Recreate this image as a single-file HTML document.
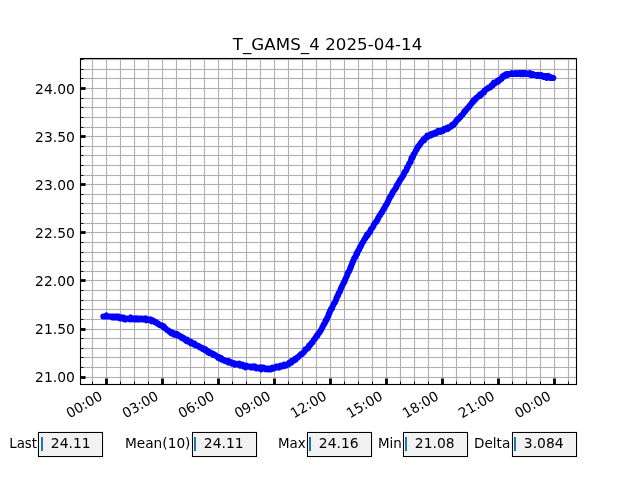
<!DOCTYPE html>
<html lang="en"><head><meta charset="utf-8"><title>T_GAMS_4 2025-04-14</title>
<style>html,body{margin:0;padding:0;background:#fff;overflow:hidden}svg{display:block}text{font-family:'DejaVu Sans','Liberation Sans',sans-serif;fill:#000}.t{font-size:13.889px}.g{fill:#b0b0b0}.h{fill:#b0b0b0;opacity:.065}</style></head><body>
<svg width="640" height="480" viewBox="0 0 640 480">
<defs><filter id="nf" x="0" y="0" width="640" height="480" filterUnits="userSpaceOnUse" color-interpolation-filters="sRGB"><feOffset dx="0" dy="0"/></filter></defs>
<rect width="640" height="480" fill="#fff"/>
<g shape-rendering="crispEdges">
<rect class="h" x="91" y="58" width="3" height="327"/>
<rect class="h" x="105" y="58" width="3" height="327"/>
<rect class="h" x="119" y="58" width="3" height="327"/>
<rect class="h" x="133" y="58" width="3" height="327"/>
<rect class="h" x="147" y="58" width="3" height="327"/>
<rect class="h" x="161" y="58" width="3" height="327"/>
<rect class="h" x="175" y="58" width="3" height="327"/>
<rect class="h" x="189" y="58" width="3" height="327"/>
<rect class="h" x="203" y="58" width="3" height="327"/>
<rect class="h" x="217" y="58" width="3" height="327"/>
<rect class="h" x="231" y="58" width="3" height="327"/>
<rect class="h" x="245" y="58" width="3" height="327"/>
<rect class="h" x="259" y="58" width="3" height="327"/>
<rect class="h" x="273" y="58" width="3" height="327"/>
<rect class="h" x="287" y="58" width="3" height="327"/>
<rect class="h" x="301" y="58" width="3" height="327"/>
<rect class="h" x="315" y="58" width="3" height="327"/>
<rect class="h" x="329" y="58" width="3" height="327"/>
<rect class="h" x="343" y="58" width="3" height="327"/>
<rect class="h" x="357" y="58" width="3" height="327"/>
<rect class="h" x="371" y="58" width="3" height="327"/>
<rect class="h" x="385" y="58" width="3" height="327"/>
<rect class="h" x="399" y="58" width="3" height="327"/>
<rect class="h" x="413" y="58" width="3" height="327"/>
<rect class="h" x="427" y="58" width="3" height="327"/>
<rect class="h" x="441" y="58" width="3" height="327"/>
<rect class="h" x="455" y="58" width="3" height="327"/>
<rect class="h" x="469" y="58" width="3" height="327"/>
<rect class="h" x="483" y="58" width="3" height="327"/>
<rect class="h" x="497" y="58" width="3" height="327"/>
<rect class="h" x="511" y="58" width="3" height="327"/>
<rect class="h" x="525" y="58" width="3" height="327"/>
<rect class="h" x="539" y="58" width="3" height="327"/>
<rect class="h" x="553" y="58" width="3" height="327"/>
<rect class="h" x="567" y="58" width="3" height="327"/>
<rect class="h" x="80" y="58" width="497" height="3"/>
<rect class="h" x="80" y="68" width="497" height="3"/>
<rect class="h" x="80" y="77" width="497" height="3"/>
<rect class="h" x="80" y="87" width="497" height="3"/>
<rect class="h" x="80" y="97" width="497" height="3"/>
<rect class="h" x="80" y="106" width="497" height="3"/>
<rect class="h" x="80" y="116" width="497" height="3"/>
<rect class="h" x="80" y="126" width="497" height="3"/>
<rect class="h" x="80" y="135" width="497" height="3"/>
<rect class="h" x="80" y="145" width="497" height="3"/>
<rect class="h" x="80" y="154" width="497" height="3"/>
<rect class="h" x="80" y="164" width="497" height="3"/>
<rect class="h" x="80" y="174" width="497" height="3"/>
<rect class="h" x="80" y="183" width="497" height="3"/>
<rect class="h" x="80" y="193" width="497" height="3"/>
<rect class="h" x="80" y="202" width="497" height="3"/>
<rect class="h" x="80" y="212" width="497" height="3"/>
<rect class="h" x="80" y="222" width="497" height="3"/>
<rect class="h" x="80" y="231" width="497" height="3"/>
<rect class="h" x="80" y="241" width="497" height="3"/>
<rect class="h" x="80" y="251" width="497" height="3"/>
<rect class="h" x="80" y="260" width="497" height="3"/>
<rect class="h" x="80" y="270" width="497" height="3"/>
<rect class="h" x="80" y="279" width="497" height="3"/>
<rect class="h" x="80" y="289" width="497" height="3"/>
<rect class="h" x="80" y="299" width="497" height="3"/>
<rect class="h" x="80" y="308" width="497" height="3"/>
<rect class="h" x="80" y="318" width="497" height="3"/>
<rect class="h" x="80" y="328" width="497" height="3"/>
<rect class="h" x="80" y="337" width="497" height="3"/>
<rect class="h" x="80" y="347" width="497" height="3"/>
<rect class="h" x="80" y="356" width="497" height="3"/>
<rect class="h" x="80" y="366" width="497" height="3"/>
<rect class="h" x="80" y="376" width="497" height="3"/>
<rect class="g" x="92" y="58" width="1" height="327"/>
<rect class="g" x="106" y="58" width="1" height="327"/>
<rect class="g" x="120" y="58" width="1" height="327"/>
<rect class="g" x="134" y="58" width="1" height="327"/>
<rect class="g" x="148" y="58" width="1" height="327"/>
<rect class="g" x="162" y="58" width="1" height="327"/>
<rect class="g" x="176" y="58" width="1" height="327"/>
<rect class="g" x="190" y="58" width="1" height="327"/>
<rect class="g" x="204" y="58" width="1" height="327"/>
<rect class="g" x="218" y="58" width="1" height="327"/>
<rect class="g" x="232" y="58" width="1" height="327"/>
<rect class="g" x="246" y="58" width="1" height="327"/>
<rect class="g" x="260" y="58" width="1" height="327"/>
<rect class="g" x="274" y="58" width="1" height="327"/>
<rect class="g" x="288" y="58" width="1" height="327"/>
<rect class="g" x="302" y="58" width="1" height="327"/>
<rect class="g" x="316" y="58" width="1" height="327"/>
<rect class="g" x="330" y="58" width="1" height="327"/>
<rect class="g" x="344" y="58" width="1" height="327"/>
<rect class="g" x="358" y="58" width="1" height="327"/>
<rect class="g" x="372" y="58" width="1" height="327"/>
<rect class="g" x="386" y="58" width="1" height="327"/>
<rect class="g" x="400" y="58" width="1" height="327"/>
<rect class="g" x="414" y="58" width="1" height="327"/>
<rect class="g" x="428" y="58" width="1" height="327"/>
<rect class="g" x="442" y="58" width="1" height="327"/>
<rect class="g" x="456" y="58" width="1" height="327"/>
<rect class="g" x="470" y="58" width="1" height="327"/>
<rect class="g" x="484" y="58" width="1" height="327"/>
<rect class="g" x="498" y="58" width="1" height="327"/>
<rect class="g" x="512" y="58" width="1" height="327"/>
<rect class="g" x="526" y="58" width="1" height="327"/>
<rect class="g" x="540" y="58" width="1" height="327"/>
<rect class="g" x="554" y="58" width="1" height="327"/>
<rect class="g" x="568" y="58" width="1" height="327"/>
<rect class="g" x="80" y="59" width="497" height="1"/>
<rect class="g" x="80" y="69" width="497" height="1"/>
<rect class="g" x="80" y="78" width="497" height="1"/>
<rect class="g" x="80" y="88" width="497" height="1"/>
<rect class="g" x="80" y="98" width="497" height="1"/>
<rect class="g" x="80" y="107" width="497" height="1"/>
<rect class="g" x="80" y="117" width="497" height="1"/>
<rect class="g" x="80" y="127" width="497" height="1"/>
<rect class="g" x="80" y="136" width="497" height="1"/>
<rect class="g" x="80" y="146" width="497" height="1"/>
<rect class="g" x="80" y="155" width="497" height="1"/>
<rect class="g" x="80" y="165" width="497" height="1"/>
<rect class="g" x="80" y="175" width="497" height="1"/>
<rect class="g" x="80" y="184" width="497" height="1"/>
<rect class="g" x="80" y="194" width="497" height="1"/>
<rect class="g" x="80" y="203" width="497" height="1"/>
<rect class="g" x="80" y="213" width="497" height="1"/>
<rect class="g" x="80" y="223" width="497" height="1"/>
<rect class="g" x="80" y="232" width="497" height="1"/>
<rect class="g" x="80" y="242" width="497" height="1"/>
<rect class="g" x="80" y="252" width="497" height="1"/>
<rect class="g" x="80" y="261" width="497" height="1"/>
<rect class="g" x="80" y="271" width="497" height="1"/>
<rect class="g" x="80" y="280" width="497" height="1"/>
<rect class="g" x="80" y="290" width="497" height="1"/>
<rect class="g" x="80" y="300" width="497" height="1"/>
<rect class="g" x="80" y="309" width="497" height="1"/>
<rect class="g" x="80" y="319" width="497" height="1"/>
<rect class="g" x="80" y="329" width="497" height="1"/>
<rect class="g" x="80" y="338" width="497" height="1"/>
<rect class="g" x="80" y="348" width="497" height="1"/>
<rect class="g" x="80" y="357" width="497" height="1"/>
<rect class="g" x="80" y="367" width="497" height="1"/>
<rect class="g" x="80" y="377" width="497" height="1"/>
</g>
<polyline fill="none" stroke="#00f" stroke-width="6" stroke-linecap="round" stroke-linejoin="round" points="103.3,316.4 103.8,316.4 104.2,316.4 104.7,316.5 105.1,316.5 105.6,316.5 106.0,316.5 106.5,315.5 106.9,316.5 107.4,316.5 107.8,316.5 108.3,316.5 108.7,316.5 109.2,316.5 109.6,316.5 110.1,316.5 110.5,316.5 111.0,316.5 111.4,316.5 111.9,316.5 112.3,317.5 112.8,316.5 113.2,316.5 113.7,317.5 114.1,316.5 114.6,316.5 115.0,316.5 115.5,316.5 115.9,317.5 116.4,317.5 116.8,316.5 117.3,317.5 117.7,316.5 118.2,317.5 118.6,316.5 119.1,317.5 119.5,317.5 120.0,318.4 120.4,318.4 120.9,317.5 121.3,318.4 121.8,317.5 122.2,318.4 122.7,317.5 123.1,317.5 123.6,317.5 124.0,318.4 124.5,319.4 124.9,318.4 125.4,318.4 125.8,319.4 126.3,318.4 126.7,318.4 127.2,318.4 127.6,318.4 128.1,318.4 128.5,318.4 129.0,318.4 129.4,318.4 129.9,319.4 130.3,318.4 130.8,317.5 131.2,318.4 131.7,319.4 132.1,318.4 132.6,318.4 133.0,318.4 133.5,318.4 133.9,318.4 134.4,318.4 134.8,319.4 135.3,318.4 135.7,319.4 136.2,319.4 136.6,319.4 137.1,318.4 137.5,319.4 138.0,319.4 138.4,318.4 138.9,318.4 139.3,319.4 139.8,319.4 140.2,319.4 140.7,318.4 141.1,318.4 141.6,318.4 142.0,318.4 142.5,319.4 142.9,319.4 143.4,319.4 143.8,319.4 144.3,319.4 144.7,319.4 145.2,319.4 145.6,318.4 146.1,319.4 146.5,320.3 147.0,319.4 147.4,319.4 147.9,319.4 148.3,319.4 148.8,319.4 149.2,319.4 149.7,319.4 150.1,320.3 150.6,319.4 151.0,320.3 151.5,320.3 151.9,321.3 152.4,320.3 152.8,320.3 153.3,321.3 153.7,321.3 154.2,321.3 154.6,321.3 155.1,322.3 155.5,322.3 156.0,322.3 156.4,322.3 156.9,323.2 157.3,323.2 157.8,323.2 158.2,324.2 158.7,324.2 159.1,324.2 159.6,325.2 160.0,325.2 160.5,325.2 160.9,325.2 161.4,325.2 161.8,325.2 162.3,326.1 162.7,326.1 163.2,327.1 163.6,326.1 164.1,327.1 164.5,328.0 165.0,328.0 165.4,328.0 165.9,329.0 166.3,329.0 166.8,330.0 167.2,330.0 167.7,330.0 168.1,330.9 168.6,330.9 169.0,330.9 169.5,331.9 169.9,331.9 170.4,331.9 170.8,332.9 171.3,331.9 171.7,332.9 172.2,333.8 172.6,333.8 173.1,333.8 173.5,332.9 174.0,333.8 174.4,334.8 174.9,334.8 175.3,333.8 175.8,334.8 176.2,334.8 176.7,333.8 177.1,334.8 177.6,335.7 178.0,334.8 178.5,335.7 178.9,335.7 179.4,335.7 179.8,335.7 180.3,336.7 180.7,336.7 181.2,337.7 181.6,336.7 182.1,337.7 182.5,338.6 183.0,338.6 183.4,337.7 183.9,338.6 184.3,338.6 184.8,339.6 185.2,339.6 185.7,340.5 186.1,339.6 186.6,339.6 187.0,339.6 187.5,341.5 187.9,340.5 188.4,341.5 188.8,341.5 189.3,341.5 189.7,342.5 190.2,342.5 190.6,341.5 191.1,343.4 191.5,342.5 192.0,343.4 192.4,343.4 192.9,343.4 193.3,343.4 193.8,344.4 194.2,343.4 194.7,344.4 195.1,344.4 195.6,345.4 196.0,345.4 196.5,345.4 196.9,345.4 197.4,345.4 197.8,345.4 198.3,346.3 198.7,346.3 199.2,346.3 199.6,347.3 200.1,347.3 200.5,347.3 201.0,347.3 201.4,348.2 201.9,348.2 202.3,348.2 202.8,349.2 203.2,348.2 203.7,349.2 204.1,349.2 204.6,349.2 205.0,350.2 205.5,349.2 205.9,350.2 206.4,351.1 206.8,351.1 207.3,351.1 207.7,352.1 208.2,351.1 208.6,352.1 209.1,352.1 209.5,353.1 210.0,352.1 210.4,353.1 210.9,353.1 211.3,353.1 211.8,353.1 212.2,354.0 212.7,354.0 213.1,355.0 213.6,354.0 214.0,355.0 214.5,355.0 214.9,355.0 215.4,355.0 215.8,355.9 216.3,355.9 216.7,355.9 217.2,356.9 217.6,356.9 218.1,357.9 218.5,356.9 219.0,356.9 219.4,357.9 219.9,358.8 220.3,358.8 220.8,358.8 221.2,357.9 221.7,358.8 222.1,359.8 222.6,359.8 223.0,359.8 223.5,359.8 223.9,359.8 224.4,360.8 224.8,360.8 225.3,360.8 225.7,360.8 226.2,360.8 226.6,361.7 227.1,361.7 227.5,361.7 228.0,361.7 228.4,360.8 228.9,362.7 229.3,361.7 229.8,361.7 230.2,361.7 230.7,362.7 231.1,362.7 231.6,362.7 232.0,363.6 232.5,362.7 232.9,362.7 233.4,363.6 233.8,363.6 234.3,363.6 234.7,364.6 235.2,363.6 235.6,363.6 236.1,364.6 236.5,364.6 237.0,364.6 237.4,364.6 237.9,364.6 238.3,364.6 238.8,364.6 239.2,363.6 239.7,364.6 240.1,365.6 240.6,364.6 241.0,364.6 241.5,365.6 241.9,364.6 242.4,364.6 242.8,365.6 243.3,365.6 243.7,366.5 244.2,365.6 244.6,365.6 245.1,365.6 245.5,367.5 246.0,365.6 246.4,365.6 246.9,366.5 247.3,366.5 247.8,366.5 248.2,366.5 248.7,366.5 249.1,366.5 249.6,366.5 250.0,366.5 250.5,367.5 250.9,367.5 251.4,366.5 251.8,366.5 252.3,367.5 252.7,366.5 253.2,366.5 253.6,367.5 254.1,366.5 254.5,367.5 255.0,366.5 255.4,367.5 255.9,367.5 256.3,368.4 256.8,367.5 257.2,367.5 257.7,367.5 258.1,367.5 258.6,367.5 259.0,368.4 259.5,368.4 259.9,368.4 260.4,367.5 260.8,369.4 261.3,369.4 261.7,368.4 262.2,367.5 262.6,368.4 263.1,368.4 263.5,367.5 264.0,368.4 264.4,368.4 264.9,368.4 265.3,368.4 265.8,369.4 266.2,368.4 266.7,368.4 267.1,368.4 267.6,368.4 268.0,369.4 268.5,369.4 268.9,368.4 269.4,368.4 269.8,369.4 270.3,368.4 270.7,368.4 271.2,369.4 271.6,368.4 272.1,368.4 272.5,367.5 273.0,368.4 273.4,368.4 273.9,368.4 274.3,368.4 274.8,367.5 275.2,367.5 275.7,367.5 276.1,366.5 276.6,366.5 277.0,367.5 277.5,367.5 277.9,367.5 278.4,366.5 278.8,366.5 279.3,367.5 279.7,366.5 280.2,366.5 280.6,365.6 281.1,366.5 281.5,366.5 282.0,366.5 282.4,366.5 282.9,366.5 283.3,365.6 283.8,365.6 284.2,364.6 284.7,365.6 285.1,365.6 285.6,364.6 286.0,365.6 286.5,364.6 286.9,364.6 287.4,364.6 287.8,364.6 288.3,364.6 288.7,363.6 289.2,362.7 289.6,363.6 290.1,363.6 290.5,362.7 291.0,362.7 291.4,362.7 291.9,360.8 292.3,361.7 292.8,360.8 293.2,360.8 293.7,360.8 294.1,359.8 294.6,359.8 295.0,358.8 295.5,359.8 295.9,358.8 296.4,358.8 296.8,357.9 297.3,357.9 297.7,356.9 298.2,356.9 298.6,356.9 299.1,355.9 299.5,355.9 300.0,355.0 300.4,355.0 300.9,354.0 301.3,354.0 301.8,354.0 302.2,354.0 302.7,353.1 303.1,353.1 303.6,352.1 304.0,352.1 304.5,351.1 304.9,351.1 305.4,349.2 305.8,349.2 306.3,349.2 306.7,349.2 307.2,348.2 307.6,348.2 308.1,348.2 308.5,347.3 309.0,345.4 309.4,345.4 309.9,345.4 310.3,344.4 310.8,344.4 311.2,343.4 311.7,342.5 312.1,342.5 312.6,342.5 313.0,341.5 313.5,340.5 313.9,339.6 314.4,339.6 314.8,338.6 315.3,338.6 315.7,337.7 316.2,336.7 316.6,335.7 317.1,335.7 317.5,335.7 318.0,333.8 318.4,333.8 318.9,332.9 319.3,332.9 319.8,331.9 320.2,330.9 320.7,330.9 321.1,330.0 321.6,329.0 322.0,328.0 322.5,327.1 322.9,326.1 323.4,325.2 323.8,324.2 324.3,324.2 324.7,323.2 325.2,322.3 325.6,320.3 326.1,320.3 326.5,320.3 327.0,318.4 327.4,317.5 327.9,316.5 328.3,316.5 328.8,313.6 329.2,313.6 329.7,312.6 330.1,310.7 330.6,310.7 331.0,308.8 331.5,308.8 331.9,308.8 332.4,306.9 332.8,305.9 333.3,305.0 333.7,304.0 334.2,303.0 334.6,303.0 335.1,302.1 335.5,301.1 336.0,300.1 336.4,298.2 336.9,297.3 337.3,296.3 337.8,296.3 338.2,294.4 338.7,293.4 339.1,292.4 339.6,292.4 340.0,291.5 340.5,289.6 340.9,288.6 341.4,287.6 341.8,286.7 342.3,285.7 342.7,284.8 343.2,283.8 343.6,282.8 344.1,281.9 344.5,281.9 345.0,279.9 345.4,279.0 345.9,278.0 346.3,277.1 346.8,276.1 347.2,275.1 347.7,273.2 348.1,272.2 348.6,272.2 349.0,271.3 349.5,270.3 349.9,269.4 350.4,267.4 350.8,267.4 351.3,265.5 351.7,264.6 352.2,263.6 352.6,261.7 353.1,261.7 353.5,260.7 354.0,258.8 354.4,257.8 354.9,257.8 355.3,256.9 355.8,255.9 356.2,254.9 356.7,253.0 357.1,254.0 357.6,252.0 358.0,251.1 358.5,250.1 358.9,250.1 359.4,249.2 359.8,247.2 360.3,247.2 360.7,246.3 361.2,245.3 361.6,244.3 362.1,243.4 362.5,242.4 363.0,242.4 363.4,241.5 363.9,240.5 364.3,239.5 364.8,238.6 365.2,238.6 365.7,237.6 366.1,236.7 366.6,235.7 367.0,234.7 367.5,235.7 367.9,234.7 368.4,233.8 368.8,232.8 369.3,232.8 369.7,231.8 370.2,231.8 370.6,229.9 371.1,229.0 371.5,229.0 372.0,228.0 372.4,228.0 372.9,227.0 373.3,226.1 373.8,225.1 374.2,224.1 374.7,223.2 375.1,223.2 375.6,222.2 376.0,222.2 376.5,221.3 376.9,220.3 377.4,220.3 377.8,218.4 378.3,218.4 378.7,217.4 379.2,216.4 379.6,215.5 380.1,215.5 380.5,214.5 381.0,213.6 381.4,212.6 381.9,212.6 382.3,211.6 382.8,210.7 383.2,209.7 383.7,208.8 384.1,208.8 384.6,207.8 385.0,206.8 385.5,205.9 385.9,204.9 386.4,204.9 386.8,203.9 387.3,203.0 387.7,202.0 388.2,201.1 388.6,200.1 389.1,199.1 389.5,198.2 390.0,197.2 390.4,196.2 390.9,196.2 391.3,195.3 391.8,194.3 392.2,193.4 392.7,192.4 393.1,191.4 393.6,191.4 394.0,190.5 394.5,189.5 394.9,189.5 395.4,188.6 395.8,187.6 396.3,187.6 396.7,185.7 397.2,184.7 397.6,184.7 398.1,183.7 398.5,182.8 399.0,181.8 399.4,181.8 399.9,179.9 400.3,179.9 400.8,178.9 401.2,178.9 401.7,178.0 402.1,177.0 402.6,176.0 403.0,176.0 403.5,175.1 403.9,174.1 404.4,172.2 404.8,172.2 405.3,171.2 405.7,171.2 406.2,170.3 406.6,169.3 407.1,167.4 407.5,167.4 408.0,166.4 408.4,165.5 408.9,164.5 409.3,163.5 409.8,162.6 410.2,162.6 410.7,161.6 411.1,159.7 411.6,157.8 412.0,157.8 412.5,157.8 412.9,156.8 413.4,154.9 413.8,153.9 414.3,153.9 414.7,153.0 415.2,152.0 415.6,151.0 416.1,150.1 416.5,150.1 417.0,148.1 417.4,148.1 417.9,147.2 418.3,146.2 418.8,146.2 419.2,145.3 419.7,144.3 420.1,144.3 420.6,143.3 421.0,142.4 421.5,142.4 421.9,141.4 422.4,141.4 422.8,140.5 423.3,139.5 423.7,140.5 424.2,140.5 424.6,139.5 425.1,138.5 425.5,137.6 426.0,137.6 426.4,137.6 426.9,137.6 427.3,135.6 427.8,136.6 428.2,135.6 428.7,135.6 429.1,135.6 429.6,134.7 430.0,134.7 430.5,135.6 430.9,134.7 431.4,133.7 431.8,133.7 432.3,133.7 432.7,134.7 433.2,133.7 433.6,133.7 434.1,133.7 434.5,132.8 435.0,132.8 435.4,133.7 435.9,132.8 436.3,132.8 436.8,131.8 437.2,132.8 437.7,131.8 438.1,130.8 438.6,131.8 439.0,131.8 439.5,131.8 439.9,130.8 440.4,130.8 440.8,131.8 441.3,130.8 441.7,130.8 442.2,129.9 442.6,129.9 443.1,130.8 443.5,129.9 444.0,129.9 444.4,128.9 444.9,129.9 445.3,128.9 445.8,128.9 446.2,128.9 446.7,128.9 447.1,127.9 447.6,128.9 448.0,128.9 448.5,127.9 448.9,127.0 449.4,127.0 449.8,127.0 450.3,127.0 450.7,127.0 451.2,126.0 451.6,125.1 452.1,126.0 452.5,125.1 453.0,125.1 453.4,125.1 453.9,124.1 454.3,123.1 454.8,123.1 455.2,123.1 455.7,122.2 456.1,121.2 456.6,120.2 457.0,120.2 457.5,119.3 457.9,119.3 458.4,119.3 458.8,118.3 459.3,118.3 459.7,117.4 460.2,117.4 460.6,116.4 461.1,115.4 461.5,115.4 462.0,115.4 462.4,114.5 462.9,114.5 463.3,113.5 463.8,112.6 464.2,111.6 464.7,111.6 465.1,111.6 465.6,110.6 466.0,109.7 466.5,109.7 466.9,108.7 467.4,108.7 467.8,107.7 468.3,107.7 468.7,106.8 469.2,106.8 469.6,105.8 470.1,104.9 470.5,104.9 471.0,103.9 471.4,103.9 471.9,102.9 472.3,102.0 472.8,102.0 473.2,102.0 473.7,100.0 474.1,100.0 474.6,100.0 475.0,100.0 475.5,99.1 475.9,98.1 476.4,98.1 476.8,98.1 477.3,97.2 477.7,97.2 478.2,96.2 478.6,96.2 479.1,96.2 479.5,96.2 480.0,94.3 480.4,94.3 480.9,95.2 481.3,94.3 481.8,93.3 482.2,93.3 482.7,92.4 483.1,92.4 483.6,92.4 484.0,92.4 484.5,90.4 484.9,90.4 485.4,90.4 485.8,89.5 486.3,89.5 486.7,89.5 487.2,88.5 487.6,88.5 488.1,88.5 488.5,87.5 489.0,87.5 489.4,87.5 489.9,87.5 490.3,87.5 490.8,86.6 491.2,85.6 491.7,85.6 492.1,85.6 492.6,85.6 493.0,83.7 493.5,83.7 493.9,82.7 494.4,83.7 494.8,83.7 495.3,82.7 495.7,82.7 496.2,81.8 496.6,81.8 497.1,81.8 497.5,80.8 498.0,81.8 498.4,80.8 498.9,79.8 499.3,79.8 499.8,79.8 500.2,79.8 500.7,78.9 501.1,78.9 501.6,78.9 502.0,77.0 502.5,77.0 502.9,76.0 503.4,77.0 503.8,76.0 504.3,76.0 504.7,75.0 505.2,76.0 505.6,75.0 506.1,74.1 506.5,75.0 507.0,74.1 507.4,74.1 507.9,75.0 508.3,74.1 508.8,74.1 509.2,74.1 509.7,74.1 510.1,74.1 510.6,74.1 511.0,74.1 511.5,74.1 511.9,73.1 512.4,74.1 512.8,74.1 513.3,74.1 513.7,74.1 514.2,74.1 514.6,74.1 515.1,74.1 515.5,73.1 516.0,73.1 516.4,74.1 516.9,74.1 517.3,74.1 517.8,74.1 518.2,74.1 518.7,73.1 519.1,73.1 519.6,73.1 520.0,73.1 520.5,73.1 520.9,74.1 521.4,73.1 521.8,73.1 522.3,73.1 522.7,73.1 523.2,73.1 523.6,74.1 524.1,73.1 524.5,73.1 525.0,73.1 525.4,73.1 525.9,73.1 526.3,74.1 526.8,74.1 527.2,74.1 527.7,74.1 528.1,74.1 528.6,74.1 529.0,74.1 529.5,74.1 529.9,73.1 530.4,74.1 530.8,75.0 531.3,74.1 531.7,74.1 532.2,75.0 532.6,74.1 533.1,74.1 533.5,75.0 534.0,75.0 534.4,75.0 534.9,75.0 535.3,75.0 535.8,75.0 536.2,75.0 536.7,76.0 537.1,76.0 537.6,75.0 538.0,76.0 538.5,75.0 538.9,76.0 539.4,76.0 539.8,76.0 540.3,76.0 540.7,76.0 541.2,75.0 541.6,76.0 542.1,76.0 542.5,76.0 543.0,76.0 543.4,77.0 543.9,77.0 544.3,77.0 544.8,76.0 545.2,76.0 545.7,76.0 546.1,77.0 546.6,77.9 547.0,77.0 547.5,77.0 547.9,77.0 548.4,76.0 548.8,77.0 549.3,77.0 549.7,77.9 550.2,77.9 550.6,77.0 551.1,77.9 551.5,77.9 552.0,77.9 552.4,77.8 552.9,77.9 553.3,78.0"/>
<g shape-rendering="crispEdges">
<rect x="92" y="382" width="1" height="3" fill="#000" opacity=".9"/>
<rect x="92" y="381" width="1" height="1" fill="#000" opacity=".45"/>
<rect x="105" y="379" width="3" height="6" fill="#000" opacity=".9"/>
<rect x="106" y="379" width="1" height="6" fill="#000"/>
<rect x="105" y="378" width="3" height="1" fill="#000" opacity=".5"/>
<rect x="120" y="382" width="1" height="3" fill="#000" opacity=".9"/>
<rect x="120" y="381" width="1" height="1" fill="#000" opacity=".45"/>
<rect x="134" y="382" width="1" height="3" fill="#000" opacity=".9"/>
<rect x="134" y="381" width="1" height="1" fill="#000" opacity=".45"/>
<rect x="148" y="382" width="1" height="3" fill="#000" opacity=".9"/>
<rect x="148" y="381" width="1" height="1" fill="#000" opacity=".45"/>
<rect x="161" y="379" width="3" height="6" fill="#000" opacity=".9"/>
<rect x="162" y="379" width="1" height="6" fill="#000"/>
<rect x="161" y="378" width="3" height="1" fill="#000" opacity=".5"/>
<rect x="176" y="382" width="1" height="3" fill="#000" opacity=".9"/>
<rect x="176" y="381" width="1" height="1" fill="#000" opacity=".45"/>
<rect x="190" y="382" width="1" height="3" fill="#000" opacity=".9"/>
<rect x="190" y="381" width="1" height="1" fill="#000" opacity=".45"/>
<rect x="204" y="382" width="1" height="3" fill="#000" opacity=".9"/>
<rect x="204" y="381" width="1" height="1" fill="#000" opacity=".45"/>
<rect x="217" y="379" width="3" height="6" fill="#000" opacity=".9"/>
<rect x="218" y="379" width="1" height="6" fill="#000"/>
<rect x="217" y="378" width="3" height="1" fill="#000" opacity=".5"/>
<rect x="232" y="382" width="1" height="3" fill="#000" opacity=".9"/>
<rect x="232" y="381" width="1" height="1" fill="#000" opacity=".45"/>
<rect x="246" y="382" width="1" height="3" fill="#000" opacity=".9"/>
<rect x="246" y="381" width="1" height="1" fill="#000" opacity=".45"/>
<rect x="260" y="382" width="1" height="3" fill="#000" opacity=".9"/>
<rect x="260" y="381" width="1" height="1" fill="#000" opacity=".45"/>
<rect x="273" y="379" width="3" height="6" fill="#000" opacity=".9"/>
<rect x="274" y="379" width="1" height="6" fill="#000"/>
<rect x="273" y="378" width="3" height="1" fill="#000" opacity=".5"/>
<rect x="288" y="382" width="1" height="3" fill="#000" opacity=".9"/>
<rect x="288" y="381" width="1" height="1" fill="#000" opacity=".45"/>
<rect x="302" y="382" width="1" height="3" fill="#000" opacity=".9"/>
<rect x="302" y="381" width="1" height="1" fill="#000" opacity=".45"/>
<rect x="316" y="382" width="1" height="3" fill="#000" opacity=".9"/>
<rect x="316" y="381" width="1" height="1" fill="#000" opacity=".45"/>
<rect x="329" y="379" width="3" height="6" fill="#000" opacity=".9"/>
<rect x="330" y="379" width="1" height="6" fill="#000"/>
<rect x="329" y="378" width="3" height="1" fill="#000" opacity=".5"/>
<rect x="344" y="382" width="1" height="3" fill="#000" opacity=".9"/>
<rect x="344" y="381" width="1" height="1" fill="#000" opacity=".45"/>
<rect x="358" y="382" width="1" height="3" fill="#000" opacity=".9"/>
<rect x="358" y="381" width="1" height="1" fill="#000" opacity=".45"/>
<rect x="372" y="382" width="1" height="3" fill="#000" opacity=".9"/>
<rect x="372" y="381" width="1" height="1" fill="#000" opacity=".45"/>
<rect x="385" y="379" width="3" height="6" fill="#000" opacity=".9"/>
<rect x="386" y="379" width="1" height="6" fill="#000"/>
<rect x="385" y="378" width="3" height="1" fill="#000" opacity=".5"/>
<rect x="400" y="382" width="1" height="3" fill="#000" opacity=".9"/>
<rect x="400" y="381" width="1" height="1" fill="#000" opacity=".45"/>
<rect x="414" y="382" width="1" height="3" fill="#000" opacity=".9"/>
<rect x="414" y="381" width="1" height="1" fill="#000" opacity=".45"/>
<rect x="428" y="382" width="1" height="3" fill="#000" opacity=".9"/>
<rect x="428" y="381" width="1" height="1" fill="#000" opacity=".45"/>
<rect x="441" y="379" width="3" height="6" fill="#000" opacity=".9"/>
<rect x="442" y="379" width="1" height="6" fill="#000"/>
<rect x="441" y="378" width="3" height="1" fill="#000" opacity=".5"/>
<rect x="456" y="382" width="1" height="3" fill="#000" opacity=".9"/>
<rect x="456" y="381" width="1" height="1" fill="#000" opacity=".45"/>
<rect x="470" y="382" width="1" height="3" fill="#000" opacity=".9"/>
<rect x="470" y="381" width="1" height="1" fill="#000" opacity=".45"/>
<rect x="484" y="382" width="1" height="3" fill="#000" opacity=".9"/>
<rect x="484" y="381" width="1" height="1" fill="#000" opacity=".45"/>
<rect x="497" y="379" width="3" height="6" fill="#000" opacity=".9"/>
<rect x="498" y="379" width="1" height="6" fill="#000"/>
<rect x="497" y="378" width="3" height="1" fill="#000" opacity=".5"/>
<rect x="512" y="382" width="1" height="3" fill="#000" opacity=".9"/>
<rect x="512" y="381" width="1" height="1" fill="#000" opacity=".45"/>
<rect x="526" y="382" width="1" height="3" fill="#000" opacity=".9"/>
<rect x="526" y="381" width="1" height="1" fill="#000" opacity=".45"/>
<rect x="540" y="382" width="1" height="3" fill="#000" opacity=".9"/>
<rect x="540" y="381" width="1" height="1" fill="#000" opacity=".45"/>
<rect x="553" y="379" width="3" height="6" fill="#000" opacity=".9"/>
<rect x="554" y="379" width="1" height="6" fill="#000"/>
<rect x="553" y="378" width="3" height="1" fill="#000" opacity=".5"/>
<rect x="568" y="382" width="1" height="3" fill="#000" opacity=".9"/>
<rect x="568" y="381" width="1" height="1" fill="#000" opacity=".45"/>
<rect x="80" y="59" width="3" height="1" fill="#000" opacity=".9"/>
<rect x="83" y="59" width="1" height="1" fill="#000" opacity=".45"/>
<rect x="80" y="69" width="3" height="1" fill="#000" opacity=".9"/>
<rect x="83" y="69" width="1" height="1" fill="#000" opacity=".45"/>
<rect x="80" y="78" width="3" height="1" fill="#000" opacity=".9"/>
<rect x="83" y="78" width="1" height="1" fill="#000" opacity=".45"/>
<rect x="80" y="87" width="5" height="3" fill="#000" opacity=".9"/>
<rect x="80" y="88" width="5" height="1" fill="#000"/>
<rect x="85" y="87" width="1" height="3" fill="#000" opacity=".5"/>
<rect x="80" y="98" width="3" height="1" fill="#000" opacity=".9"/>
<rect x="83" y="98" width="1" height="1" fill="#000" opacity=".45"/>
<rect x="80" y="107" width="3" height="1" fill="#000" opacity=".9"/>
<rect x="83" y="107" width="1" height="1" fill="#000" opacity=".45"/>
<rect x="80" y="117" width="3" height="1" fill="#000" opacity=".9"/>
<rect x="83" y="117" width="1" height="1" fill="#000" opacity=".45"/>
<rect x="80" y="127" width="3" height="1" fill="#000" opacity=".9"/>
<rect x="83" y="127" width="1" height="1" fill="#000" opacity=".45"/>
<rect x="80" y="135" width="5" height="3" fill="#000" opacity=".9"/>
<rect x="80" y="136" width="5" height="1" fill="#000"/>
<rect x="85" y="135" width="1" height="3" fill="#000" opacity=".5"/>
<rect x="80" y="146" width="3" height="1" fill="#000" opacity=".9"/>
<rect x="83" y="146" width="1" height="1" fill="#000" opacity=".45"/>
<rect x="80" y="155" width="3" height="1" fill="#000" opacity=".9"/>
<rect x="83" y="155" width="1" height="1" fill="#000" opacity=".45"/>
<rect x="80" y="165" width="3" height="1" fill="#000" opacity=".9"/>
<rect x="83" y="165" width="1" height="1" fill="#000" opacity=".45"/>
<rect x="80" y="175" width="3" height="1" fill="#000" opacity=".9"/>
<rect x="83" y="175" width="1" height="1" fill="#000" opacity=".45"/>
<rect x="80" y="183" width="5" height="3" fill="#000" opacity=".9"/>
<rect x="80" y="184" width="5" height="1" fill="#000"/>
<rect x="85" y="183" width="1" height="3" fill="#000" opacity=".5"/>
<rect x="80" y="194" width="3" height="1" fill="#000" opacity=".9"/>
<rect x="83" y="194" width="1" height="1" fill="#000" opacity=".45"/>
<rect x="80" y="203" width="3" height="1" fill="#000" opacity=".9"/>
<rect x="83" y="203" width="1" height="1" fill="#000" opacity=".45"/>
<rect x="80" y="213" width="3" height="1" fill="#000" opacity=".9"/>
<rect x="83" y="213" width="1" height="1" fill="#000" opacity=".45"/>
<rect x="80" y="223" width="3" height="1" fill="#000" opacity=".9"/>
<rect x="83" y="223" width="1" height="1" fill="#000" opacity=".45"/>
<rect x="80" y="231" width="5" height="3" fill="#000" opacity=".9"/>
<rect x="80" y="232" width="5" height="1" fill="#000"/>
<rect x="85" y="231" width="1" height="3" fill="#000" opacity=".5"/>
<rect x="80" y="242" width="3" height="1" fill="#000" opacity=".9"/>
<rect x="83" y="242" width="1" height="1" fill="#000" opacity=".45"/>
<rect x="80" y="252" width="3" height="1" fill="#000" opacity=".9"/>
<rect x="83" y="252" width="1" height="1" fill="#000" opacity=".45"/>
<rect x="80" y="261" width="3" height="1" fill="#000" opacity=".9"/>
<rect x="83" y="261" width="1" height="1" fill="#000" opacity=".45"/>
<rect x="80" y="271" width="3" height="1" fill="#000" opacity=".9"/>
<rect x="83" y="271" width="1" height="1" fill="#000" opacity=".45"/>
<rect x="80" y="279" width="5" height="3" fill="#000" opacity=".9"/>
<rect x="80" y="280" width="5" height="1" fill="#000"/>
<rect x="85" y="279" width="1" height="3" fill="#000" opacity=".5"/>
<rect x="80" y="290" width="3" height="1" fill="#000" opacity=".9"/>
<rect x="83" y="290" width="1" height="1" fill="#000" opacity=".45"/>
<rect x="80" y="300" width="3" height="1" fill="#000" opacity=".9"/>
<rect x="83" y="300" width="1" height="1" fill="#000" opacity=".45"/>
<rect x="80" y="309" width="3" height="1" fill="#000" opacity=".9"/>
<rect x="83" y="309" width="1" height="1" fill="#000" opacity=".45"/>
<rect x="80" y="319" width="3" height="1" fill="#000" opacity=".9"/>
<rect x="83" y="319" width="1" height="1" fill="#000" opacity=".45"/>
<rect x="80" y="328" width="5" height="3" fill="#000" opacity=".9"/>
<rect x="80" y="329" width="5" height="1" fill="#000"/>
<rect x="85" y="328" width="1" height="3" fill="#000" opacity=".5"/>
<rect x="80" y="338" width="3" height="1" fill="#000" opacity=".9"/>
<rect x="83" y="338" width="1" height="1" fill="#000" opacity=".45"/>
<rect x="80" y="348" width="3" height="1" fill="#000" opacity=".9"/>
<rect x="83" y="348" width="1" height="1" fill="#000" opacity=".45"/>
<rect x="80" y="357" width="3" height="1" fill="#000" opacity=".9"/>
<rect x="83" y="357" width="1" height="1" fill="#000" opacity=".45"/>
<rect x="80" y="367" width="3" height="1" fill="#000" opacity=".9"/>
<rect x="83" y="367" width="1" height="1" fill="#000" opacity=".45"/>
<rect x="80" y="376" width="5" height="3" fill="#000" opacity=".9"/>
<rect x="80" y="377" width="5" height="1" fill="#000"/>
<rect x="85" y="376" width="1" height="3" fill="#000" opacity=".5"/>
<rect x="79" y="57" width="499" height="329" fill="none" stroke="none"/>
<rect x="80" y="57" width="497" height="3" fill="#000" opacity=".055"/>
<rect x="80" y="383" width="497" height="3" fill="#000" opacity=".055"/>
<rect x="79" y="58" width="3" height="327" fill="#000" opacity=".055"/>
<rect x="575" y="58" width="3" height="327" fill="#000" opacity=".055"/>
<rect x="80" y="58" width="497" height="1" fill="#000"/>
<rect x="80" y="384" width="497" height="1" fill="#000"/>
<rect x="80" y="58" width="1" height="327" fill="#000"/>
<rect x="576" y="58" width="1" height="327" fill="#000"/>
</g>
<g filter="url(#nf)">
<text x="327.6" y="50.1" text-anchor="middle" style="font-size:16.667px;letter-spacing:.045px">T_GAMS_4 2025-04-14</text>
<text class="t" x="74.85" y="382" text-anchor="end">21.00</text>
<text class="t" x="74.85" y="334" text-anchor="end">21.50</text>
<text class="t" x="74.85" y="286" text-anchor="end">22.00</text>
<text class="t" x="74.85" y="238" text-anchor="end">22.50</text>
<text class="t" x="74.85" y="190" text-anchor="end">23.00</text>
<text class="t" x="74.85" y="142" text-anchor="end">23.50</text>
<text class="t" x="74.85" y="94" text-anchor="end">24.00</text>
<text class="t" transform="translate(103.39 399.01) rotate(-30) scale(.972 1)" text-anchor="end">00:00</text>
<text class="t" transform="translate(159.45 399.01) rotate(-30) scale(.972 1)" text-anchor="end">03:00</text>
<text class="t" transform="translate(215.51 399.01) rotate(-30) scale(.972 1)" text-anchor="end">06:00</text>
<text class="t" transform="translate(271.57 399.01) rotate(-30) scale(.972 1)" text-anchor="end">09:00</text>
<text class="t" transform="translate(327.62 399.01) rotate(-30) scale(.972 1)" text-anchor="end">12:00</text>
<text class="t" transform="translate(383.68 399.01) rotate(-30) scale(.972 1)" text-anchor="end">15:00</text>
<text class="t" transform="translate(439.74 399.01) rotate(-30) scale(.972 1)" text-anchor="end">18:00</text>
<text class="t" transform="translate(495.79 399.01) rotate(-30) scale(.972 1)" text-anchor="end">21:00</text>
<text class="t" transform="translate(551.85 399.01) rotate(-30) scale(.972 1)" text-anchor="end">00:00</text>
</g>
<g shape-rendering="crispEdges">
<rect x="37" y="431" width="67" height="27" fill="#000" opacity=".055"/>
<rect x="38" y="432" width="65" height="25" fill="#000"/>
<rect x="39" y="433" width="63" height="23" fill="#f2f2f2"/>
<rect x="41" y="437" width="2" height="14" fill="#1f77b4"/>
</g>
<g shape-rendering="crispEdges">
<rect x="191" y="431" width="67" height="27" fill="#000" opacity=".055"/>
<rect x="192" y="432" width="65" height="25" fill="#000"/>
<rect x="193" y="433" width="63" height="23" fill="#f2f2f2"/>
<rect x="194" y="437" width="2" height="14" fill="#1f77b4"/>
</g>
<g shape-rendering="crispEdges">
<rect x="306" y="431" width="67" height="27" fill="#000" opacity=".055"/>
<rect x="307" y="432" width="65" height="25" fill="#000"/>
<rect x="308" y="433" width="63" height="23" fill="#f2f2f2"/>
<rect x="309" y="437" width="2" height="14" fill="#1f77b4"/>
</g>
<g shape-rendering="crispEdges">
<rect x="402" y="431" width="67" height="27" fill="#000" opacity=".055"/>
<rect x="403" y="432" width="65" height="25" fill="#000"/>
<rect x="404" y="433" width="63" height="23" fill="#f2f2f2"/>
<rect x="405" y="437" width="2" height="14" fill="#1f77b4"/>
</g>
<g shape-rendering="crispEdges">
<rect x="511" y="431" width="67" height="27" fill="#000" opacity=".055"/>
<rect x="512" y="432" width="65" height="25" fill="#000"/>
<rect x="513" y="433" width="63" height="23" fill="#f2f2f2"/>
<rect x="514" y="437" width="2" height="14" fill="#1f77b4"/>
</g>
<g filter="url(#nf)">
<text class="t" transform="translate(37.10 448) scale(0.9660 1)" text-anchor="end">Last</text>
<text class="t" x="42" y="448" xml:space="preserve">  24.11</text>
<text class="t" transform="translate(190.47 448) scale(0.9880 1)" text-anchor="end">Mean(10)</text>
<text class="t" x="195" y="448" xml:space="preserve">  24.11</text>
<text class="t" transform="translate(305.72 448) scale(0.9680 1)" text-anchor="end">Max</text>
<text class="t" x="310" y="448" xml:space="preserve">  24.16</text>
<text class="t" transform="translate(401.85 448) scale(0.9680 1)" text-anchor="end">Min</text>
<text class="t" x="406" y="448" xml:space="preserve">  21.08</text>
<text class="t" transform="translate(510.27 448) scale(0.9800 1)" text-anchor="end">Delta</text>
<text class="t" x="515" y="448" xml:space="preserve">  3.084</text>
</g>
</svg></body></html>
